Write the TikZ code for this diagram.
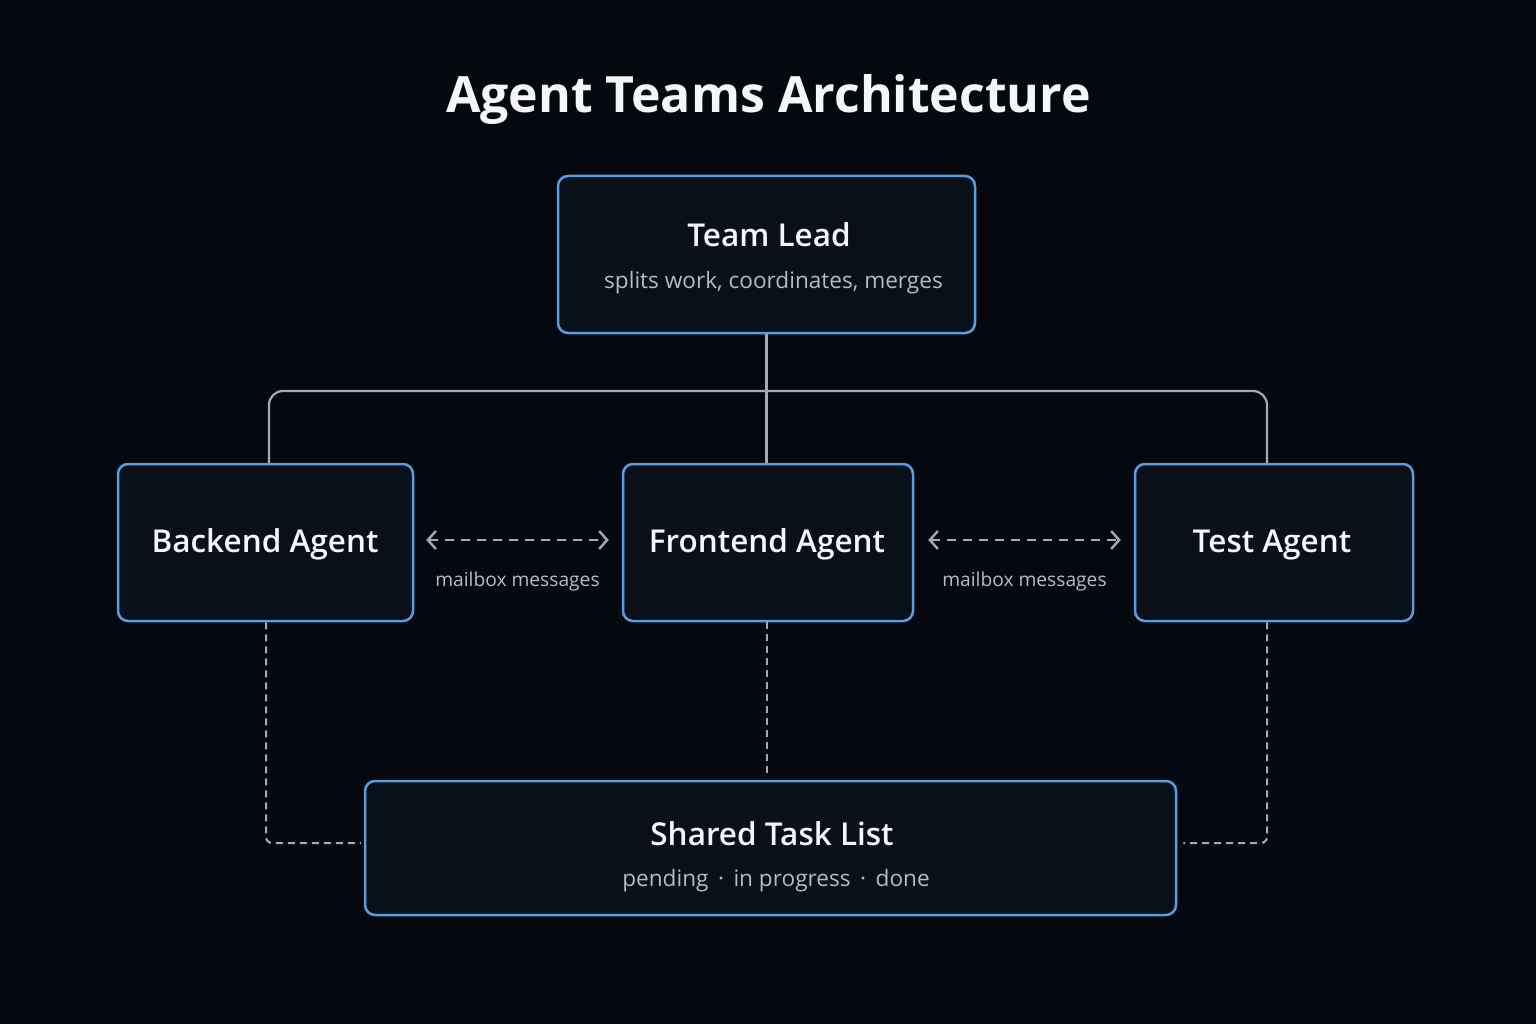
\documentclass[tikz,border=0pt]{standalone}
\usepackage{fontspec}
\setmainfont{Open Sans}
\IfFontExistsTF{Open Sans Semibold}
  {\newfontfamily\semib{Open Sans Semibold}}
  {\newfontfamily\semib{Open Sans}[UprightFont=*-Bold]}
\usetikzlibrary{arrows.meta}
\definecolor{bgc}{HTML}{05080E}
\definecolor{boxfill}{HTML}{0A1019}
\definecolor{boxblue}{RGB}{88,158,228}
\definecolor{txtwhite}{HTML}{F4F6F9}
\definecolor{txtgray}{HTML}{B6BCC4}
\definecolor{linegray}{HTML}{A6AAB0}
\tikzset{
  box/.style={draw=boxblue, fill=boxfill, line width=2.5pt, rounded corners=10pt, inner sep=0pt},
  bigtitle/.style={text=txtwhite, font=\fontsize{50}{60}\selectfont\bfseries, anchor=base, inner sep=0pt},
  ttl/.style={text=txtwhite, font=\fontsize{31.5}{40}\selectfont\semib, anchor=base, inner sep=0pt},
  sub/.style={text=txtgray, font=\fontsize{22.6}{26}\selectfont, anchor=base, inner sep=0pt},
  lbl/.style={text=txtgray, font=\fontsize{19.2}{23}\selectfont, anchor=base, inner sep=0pt},
  tree/.style={draw=linegray, line width=2.2pt},
  dashline/.style={draw=linegray, line width=2pt, dash pattern=on 7pt off 5pt},
  msgarrow/.style={draw=linegray, line width=2.2pt, dash pattern=on 9pt off 7pt,
    {Straight Barb[length=8pt,width=18pt,line width=2.4pt]}-{Straight Barb[length=8pt,width=18pt,line width=2.4pt]}},
}
\begin{document}
\begin{tikzpicture}[x=1pt,y=-1pt]
\fill[bgc] (0,0) rectangle (1536,1024);
\useasboundingbox (0,0) rectangle (1536,1024);

\node[bigtitle] (title) at (768.5,113) {Agent Teams Architecture};

% boxes
\node[box, minimum width=417pt, minimum height=157pt] (lead) at (766.5,254.5) {};
\node[box, minimum width=295pt, minimum height=157pt] (backend) at (265.5,542.5) {};
\node[box, minimum width=290pt, minimum height=157pt] (frontend) at (768,542.5) {};
\node[box, minimum width=278pt, minimum height=157pt] (test) at (1274,542.5) {};
\node[box, minimum width=811pt, minimum height=134pt] (shared) at (770.5,848) {};

% texts
\node[ttl] (leadt) at (769,247) {Team Lead};
\node[sub] (leads) at (773.5,289) {splits work, coordinates, merges};
\node[ttl] (backt) at (265,552) {Backend Agent};
\node[ttl] (frontt) at (767,552) {Frontend Agent};
\node[ttl] (testt) at (1272,552) {Test Agent};
\node[ttl] (sharedt) at (772,845) {Shared Task List};
\node[sub] (shareds) at (776,886) {pending\hspace{0.42em}·\hspace{0.42em}in progress\hspace{0.42em}·\hspace{0.42em}done};

% tree connectors
\coordinate (bus) at (767,391);
\draw[tree] (lead.south) -- (lead.south |- frontend.north);
\draw[tree, rounded corners=14pt] ([xshift=3.5pt]backend.north) |- (bus) -| ([xshift=-7pt]test.north);

% mailbox arrows
\draw[msgarrow] ([xshift=12pt,yshift=2.5pt]backend.east) -- ([xshift=-13pt,yshift=2.5pt]frontend.west)
  node[lbl, midway, yshift=-46pt] (mb1) {mailbox messages};
\draw[msgarrow] ([xshift=14pt,yshift=2.5pt]frontend.east) -- ([xshift=-13pt,yshift=2.5pt]test.west)
  node[lbl, midway, yshift=-46pt] (mb2) {mailbox messages};

% task list links
\draw[dashline, rounded corners=6pt] ([xshift=0.5pt]backend.south) |- ([xshift=-3pt,yshift=5pt]shared.west);
\draw[dashline, rounded corners=6pt] ([xshift=-7pt]test.south) |- ([xshift=6pt,yshift=5pt]shared.east);
\draw[dashline] ([xshift=-1pt]frontend.south) -- ([xshift=-1pt,yshift=5pt]frontend.south |- shared.north);
\end{tikzpicture}
\end{document}
